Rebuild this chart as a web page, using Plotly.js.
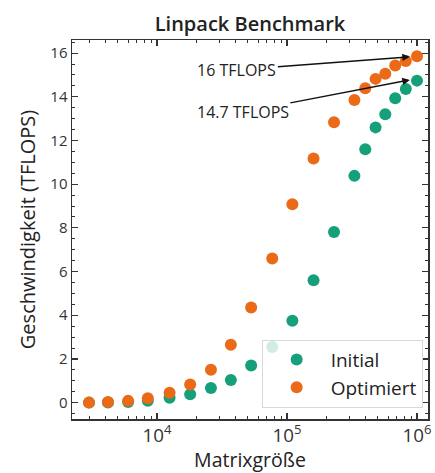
<!DOCTYPE html>
<html>
<head>
<meta charset="utf-8">
<script src="https://cdn.plot.ly/plotly-3.0.1.min.js"></script>
<style>
html,body{margin:0;padding:0;background:#fff;}
#chart{width:435px;height:473px;}
</style>
</head>
<body>
<div id="chart"></div>
<script>
const matrixSize = [3000, 4200, 6000, 8500, 12500, 18000, 26000, 37000, 53000, 77000, 110000, 160000, 230000, 330000, 400000, 480000, 570000, 680000, 820000, 1000000];
const initial   = [0.0, 0.01, 0.03, 0.09, 0.22, 0.38, 0.67, 1.04, 1.7, 2.55, 3.75, 5.6, 7.81, 10.38, 11.6, 12.6, 13.2, 13.93, 14.36, 14.74];
const optimiert = [0.0, 0.03, 0.08, 0.2, 0.45, 0.83, 1.5, 2.65, 4.35, 6.6, 9.08, 11.18, 12.83, 13.85, 14.39, 14.82, 15.06, 15.43, 15.64, 15.86];
const seriesNames = ['Initial', 'Optimiert'];
const annotTexts = ['16 TFLOPS', '14.7 TFLOPS'];

const FONT = 'Open Sans, Noto Sans, DejaVu Sans, sans-serif';
const green = '#16a07a';
const orange = '#eb6a17';

const traces = [
  {x: matrixSize, y: initial, name: seriesNames[0], type: 'scatter', mode: 'markers',
   marker: {color: green, size: 12}},
  {x: matrixSize, y: optimiert, name: seriesNames[1], type: 'scatter', mode: 'markers',
   marker: {color: orange, size: 12}}
];

const axisCommon = {
  showline: true, linecolor: '#333', linewidth: 1.5, mirror: 'allticks',
  ticks: 'inside', ticklen: 6, tickwidth: 1.2, tickcolor: '#333',
  showgrid: false, zeroline: false,
  tickfont: {family: FONT, size: 15, color: '#333'}
};

const layout = {
  width: 435, height: 473,
  margin: {l: 72, r: 7, t: 40, b: 54},
  paper_bgcolor: '#fff', plot_bgcolor: '#fff',
  font: {family: FONT, color: '#222'},
  title: {text: 'Linpack Benchmark', font: {family: FONT, size: 20, color: '#222', weight: 600},
          xref: 'paper', x: 0.5, xanchor: 'center', yref: 'container', y: 0.949, yanchor: 'middle'},
  xaxis: Object.assign({}, axisCommon, {
    type: 'log', range: [Math.log10(2220), Math.log10(1215000)],
    dtick: 1, exponentformat: 'power',
    minor: {ticks: 'inside', ticklen: 3, tickcolor: '#333', tickwidth: 1, dtick: 'D1'},
    title: {text: 'Matrixgröße', font: {family: FONT, size: 19.5, color: '#222'}, standoff: 7}
  }),
  yaxis: Object.assign({}, axisCommon, {
    range: [-0.75, 16.6], dtick: 2, tick0: 0,
    minor: {ticks: 'inside', ticklen: 3, tickcolor: '#333', tickwidth: 1, dtick: 0.5},
    title: {text: 'Geschwindigkeit (TFLOPS)', font: {family: FONT, size: 20, color: '#222'}, standoff: 9}
  }),
  legend: {
    x: 0.985, y: 0.03, xanchor: 'right', yanchor: 'bottom',
    bgcolor: 'rgba(255,255,255,0.8)', bordercolor: '#d8d8d8', borderwidth: 1,
    font: {family: FONT, size: 19, color: '#222'},
    itemwidth: 58, tracegroupgap: 6
  },
  showlegend: true,
  annotations: [
    {xref: 'x', yref: 'y', x: Math.log10(matrixSize[19]) - 0.055, y: 15.83, text: annotTexts[0],
     showarrow: true, arrowhead: 2, arrowsize: 1, arrowwidth: 1.5, arrowcolor: '#111',
     ax: -173, ay: 13, font: {family: FONT, size: 16, color: '#222'}},
    {xref: 'x', yref: 'y', x: Math.log10(matrixSize[19]) - 0.055, y: 14.77, text: annotTexts[1],
     showarrow: true, arrowhead: 2, arrowsize: 1, arrowwidth: 1.5, arrowcolor: '#111',
     ax: -167, ay: 32, font: {family: FONT, size: 16, color: '#222'}}
  ]
};

Plotly.newPlot('chart', traces, layout, {displayModeBar: false, staticPlot: true});
</script>
</body>
</html>
